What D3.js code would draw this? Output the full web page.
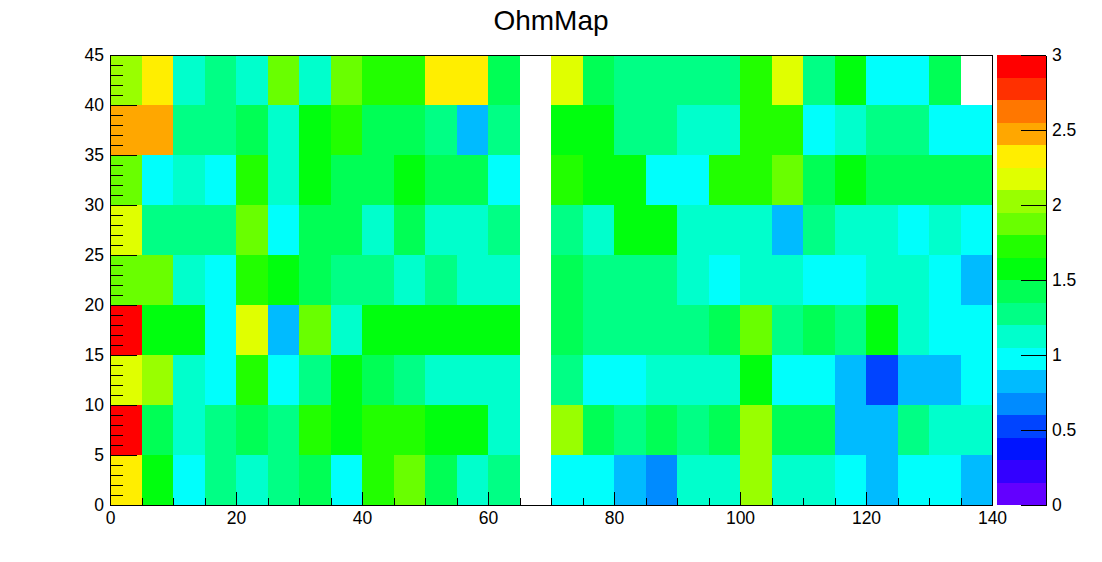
<!DOCTYPE html>
<html><head><meta charset="utf-8">
<script src="https://cdn.jsdelivr.net/npm/d3@7"></script>
<style>
html,body{margin:0;padding:0;background:#fff;}
text{font-family:"Liberation Sans",Arial,Helvetica,sans-serif;}
</style></head>
<body>
<svg id="c" width="1102" height="562"></svg>
<script>
// ---- data ----
const title = "OhmMap";
const xEdges = d3.range(0, 141, 5);   // 28 bins
const yEdges = d3.range(0, 46, 5);    // 9 bins
const xTicks = [0, 20, 40, 60, 80, 100, 120, 140];
const yTicks = [0, 5, 10, 15, 20, 25, 30, 35, 40, 45];
const zTicks = [0, 0.5, 1, 1.5, 2, 2.5, 3];
const zTickLabels = ["0", "0.5", "1", "1.5", "2", "2.5", "3"];
// cell values, row index = y bin from bottom (0-5) to top (40-45); null = empty bin
const row0 = [2.32,1.57,0.97,1.27,1.12,1.27,1.42,0.97,1.72,1.87,1.42,1.12,1.27,null,0.97,0.97,0.82,0.67,1.12,1.12,2.02,1.12,1.12,0.97,0.82,0.97,0.97,0.82];
const row1 = [2.92,1.42,1.12,1.27,1.42,1.27,1.72,1.57,1.72,1.72,1.57,1.57,1.12,null,2.02,1.42,1.27,1.42,1.27,1.42,2.02,1.42,1.42,0.82,0.82,1.27,1.12,1.12];
const row2 = [2.17,2.02,1.12,0.97,1.72,0.97,1.27,1.57,1.42,1.27,1.12,1.12,1.12,null,1.27,0.97,0.97,1.12,1.12,1.12,1.57,0.97,0.97,0.82,0.52,0.82,0.82,0.97];
const row3 = [2.92,1.57,1.57,0.97,2.17,0.82,1.87,1.12,1.57,1.57,1.57,1.57,1.57,null,1.42,1.27,1.27,1.27,1.27,1.42,1.87,1.27,1.42,1.27,1.57,1.12,0.97,0.97];
const row4 = [1.87,1.87,1.12,0.97,1.72,1.57,1.42,1.27,1.27,1.12,1.27,1.12,1.12,null,1.42,1.27,1.27,1.27,1.12,0.97,1.12,1.12,0.97,0.97,1.12,1.12,0.97,0.82];
const row5 = [2.17,1.27,1.27,1.27,1.87,0.97,1.42,1.42,1.12,1.42,1.12,1.12,1.27,null,1.27,1.12,1.57,1.57,1.12,1.12,1.12,0.82,1.27,1.12,1.12,0.97,1.12,0.97];
const row6 = [1.87,0.97,1.12,0.97,1.72,1.12,1.57,1.42,1.42,1.57,1.42,1.42,0.97,null,1.72,1.57,1.57,0.97,0.97,1.72,1.72,1.87,1.42,1.57,1.42,1.42,1.42,1.42];
const row7 = [2.47,2.47,1.27,1.27,1.42,1.12,1.57,1.72,1.42,1.42,1.27,0.82,1.27,null,1.57,1.57,1.27,1.27,1.12,1.12,1.72,1.72,0.97,1.12,1.27,1.27,0.97,0.97];
const row8 = [2.02,2.32,1.12,1.27,1.12,1.87,1.12,1.87,1.72,1.72,2.32,2.32,1.42,null,2.17,1.42,1.27,1.27,1.27,1.27,1.72,2.17,1.27,1.57,0.97,0.97,1.42,null];
const rows = [row0,row1,row2,row3,row4,row5,row6,row7,row8];

// ---- layout ----
const svg = d3.select("#c");
const X0 = 110, X1 = 992, Y0 = 55, Y1 = 505;
const x = d3.scaleLinear().domain([0, 140]).range([X0, X1]);
const y = d3.scaleLinear().domain([0, 45]).range([Y1, Y0]);
const zMin = 0, zMax = 3, nLevels = 20;
// ROOT "pretty" palette (50 HLS colours), 20 contour levels
const palette = d3.range(nLevels).map(k => {
  const idx = Math.floor((k + 0.99) * 50 / nLevels);
  if (idx >= 49) return "#ff0000";
  const hue = 280 - (idx + 1) * (280 / 50);
  return d3.hsl(hue, 1, 0.5).formatHex();
});
const color = d3.scaleQuantize().domain([zMin, zMax]).range(palette);

// cells
const cells = [];
rows.forEach((r, j) => r.forEach((v, i) => {
  if (v !== null && v > 0) cells.push({x0: xEdges[i], x1: xEdges[i+1], y0: yEdges[j], y1: yEdges[j+1], v});
}));
svg.append("g").selectAll("rect").data(cells).join("rect")
  .attr("x", d => x(d.x0)).attr("y", d => y(d.y1))
  .attr("width", d => x(d.x1) - x(d.x0)).attr("height", d => y(d.y0) - y(d.y1))
  .attr("fill", d => color(d.v)).attr("shape-rendering", "crispEdges");

// frame
svg.append("rect").attr("x", X0).attr("y", Y0).attr("width", X1 - X0).attr("height", Y1 - Y0)
  .attr("fill", "none").attr("stroke", "#000").attr("stroke-width", 1).attr("shape-rendering", "crispEdges");

const fontSize = 17.5;
// x axis
const gx = svg.append("g").attr("transform", `translate(0,${Y1})`);
gx.call(d3.axisBottom(x).tickValues(xTicks).tickFormat(d3.format("d")).tickSizeInner(-13.5).tickSizeOuter(0).tickPadding(7));
svg.append("g").attr("transform", `translate(0,${Y1})`)
  .call(d3.axisBottom(x).tickValues(d3.range(0, 141, 5).filter(v => v % 20)).tickFormat("").tickSizeInner(-6.75).tickSizeOuter(0))
  .select(".domain").remove();
// y axis
const gy = svg.append("g").attr("transform", `translate(${X0},0)`);
gy.call(d3.axisLeft(y).tickValues(yTicks).tickFormat(d3.format("d")).tickSizeInner(-26.5).tickSizeOuter(0).tickPadding(6));
svg.append("g").attr("transform", `translate(${X0},0)`)
  .call(d3.axisLeft(y).tickValues(d3.range(0, 46, 1).filter(v => v % 5)).tickFormat("").tickSizeInner(-13.25).tickSizeOuter(0))
  .select(".domain").remove();
[gx, gy].forEach(g => g.select(".domain").remove());

// colour bar
const CB0 = 997, CB1 = 1046;
const z = d3.scaleLinear().domain([zMin, zMax]).range([Y1, Y0]);
const levels = d3.range(nLevels).map(k => zMin + k * (zMax - zMin) / nLevels);
svg.append("g").selectAll("rect").data(levels).join("rect")
  .attr("x", CB0).attr("width", CB1 - CB0)
  .attr("y", d => z(d + (zMax - zMin) / nLevels)).attr("height", d => z(d) - z(d + (zMax - zMin) / nLevels))
  .attr("fill", d => color(d + 1e-6)).attr("shape-rendering", "crispEdges");
const gz = svg.append("g").attr("transform", `translate(${CB1},0)`);
gz.call(d3.axisRight(z).tickValues(zTicks).tickFormat((d, i) => zTickLabels[i]).tickSizeInner(-25).tickSizeOuter(0).tickPadding(6));
gz.select(".domain").attr("stroke", "#000").attr("shape-rendering", "crispEdges");

svg.selectAll(".tick line").attr("stroke", "#000").attr("shape-rendering", "crispEdges");
svg.selectAll(".tick text").attr("fill", "#000").style("font-size", fontSize + "px");

// title
svg.append("text").attr("x", 551).attr("y", 30).attr("text-anchor", "middle")
  .style("font-size", "28px").attr("fill", "#000").text(title);
</script>
</body></html>
